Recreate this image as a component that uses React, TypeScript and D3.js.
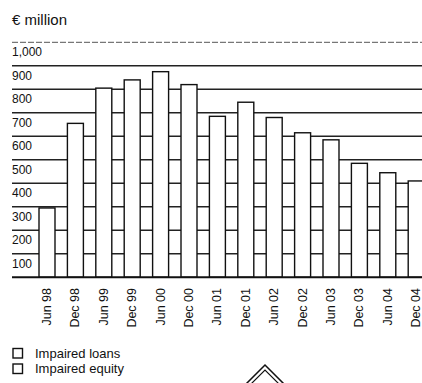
import React from "react";
import * as d3 from "d3";

const categories = ["Jun 98","Dec 98","Jun 99","Dec 99","Jun 00","Dec 00","Jun 01","Dec 01","Jun 02","Dec 02","Jun 03","Dec 03","Jun 04","Dec 04"];
const totals = [295, 655, 805, 840, 875, 820, 685, 745, 680, 615, 585, 485, 445, 410];
const yTicks = [100, 200, 300, 400, 500, 600, 700, 800, 900, 1000];
const legendItems = ["Impaired loans", "Impaired equity"];

const W = 422, H = 383;
const FONT = "'Liberation Sans', Arial, sans-serif";

export default function App() {
  const y = d3.scaleLinear().domain([0, 1000]).range([277.3, 42.3]);
  const step = 28.4;
  const x = d3.scaleBand<string>()
    .domain(categories)
    .range([32.8, 32.8 + step * categories.length])
    .paddingInner(0.437)
    .paddingOuter(0.2185);
  const fmt = d3.format(",");
  const gridX0 = 12, gridX1 = W;

  return (
    <svg width={W} height={H} style={{ position: "absolute", left: 0, top: 0, background: "#fff" }} fontFamily={FONT}>
      <text x={12} y={25} fontSize={15} fill="#111">€ million</text>
      {yTicks.map((t) => (
        <g key={t}>
          <line x1={gridX0} x2={gridX1} y1={y(t)} y2={y(t)}
            stroke={t === 1000 ? "#555" : "#222"} strokeWidth={t === 1000 ? 1 : 1.4}
            strokeDasharray={t === 1000 ? "6 2" : undefined} />
          <text x={12} y={y(t) + 14} fontSize={12} fill="#111">{fmt(t)}</text>
        </g>
      ))}
      {categories.map((c, i) => (
        <rect key={c} x={x(c)!} y={y(totals[i])} width={x.bandwidth()} height={y(0) - y(totals[i])}
          fill="#fff" stroke="#111" strokeWidth={1.4} />
      ))}
      <line x1={gridX0} x2={gridX1} y1={y(0)} y2={y(0)} stroke="#111" strokeWidth={2} />
      {categories.map((c) => {
        const cx = x(c)! + x.bandwidth() / 2 + 4;
        return (
          <text key={c} transform={`translate(${cx},288) rotate(-90)`} textAnchor="end" fontSize={12.5} fill="#111">{c}</text>
        );
      })}
      {legendItems.map((l, i) => (
        <g key={l} transform={`translate(13,${348.5 + i * 15.5})`}>
          <rect x={0} y={0} width={9.5} height={9.5} fill="#fff" stroke="#111" strokeWidth={1.4} />
          <text x={22} y={9} fontSize={13} fill="#111">{l}</text>
        </g>
      ))}
      <path d="M245,385 L265,365 L285,385" fill="none" stroke="#111" strokeWidth={1.5} />
      <path d="M250,385 L265,370 L280,385" fill="none" stroke="#111" strokeWidth={1.2} />
    </svg>
  );
}
